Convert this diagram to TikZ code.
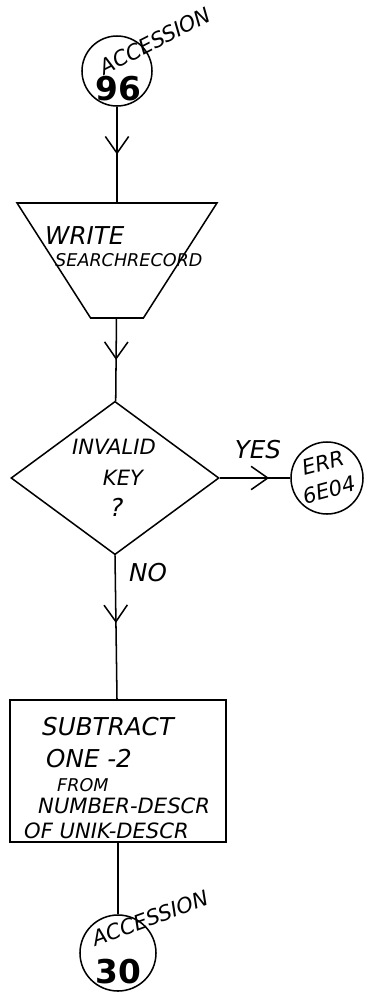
\documentclass[tikz,border=0pt]{standalone}
\usepackage{fontspec}
\usepackage{tikz}
\usetikzlibrary{shapes.geometric,arrows.meta,decorations.markings}
\setsansfont{DejaVu Sans}

\begin{document}
\begin{tikzpicture}[
        x=0.03cm, y=-0.03cm, % 1 unit = 1 px of the sheet, y grows downwards
        hand/.style={font=\sffamily\slshape\fontsize{18}{20}\selectfont, inner sep=0pt},
        bighand/.style={font=\sffamily\slshape\fontsize{21}{23}\selectfont, inner sep=0pt},
        smallhand/.style={font=\sffamily\slshape\fontsize{15}{17}\selectfont, inner sep=0pt},
        bignum/.style={font=\sffamily\bfseries\fontsize{28}{30}\selectfont, inner sep=0pt},
        connector/.style={circle, draw, line width=1.3pt, minimum size=2.1cm, inner sep=0pt},
        iobox/.style={trapezium, shape border rotate=180, trapezium stretches=true, trapezium angle=70.8, draw, line width=1.3pt, minimum width=6cm, minimum height=3.45cm, inner sep=2pt},
        decision/.style={diamond, draw, line width=1.3pt, minimum width=6.24cm, minimum height=4.6cm, inner sep=0pt},
        process/.style={rectangle, draw, line width=1.3pt, minimum width=6.48cm, minimum height=4.26cm, inner sep=0pt},
        flow/.style={draw, line width=1.3pt, postaction={decorate}, decoration={markings, mark=at position #1 with {\arrow{Straight Barb[length=5mm,width=7mm]}}}},
        flow/.default=0.5,
        plain/.style={draw, line width=1.3pt}
    ]
    \useasboundingbox (0,0) rectangle (373,995);

    % ==========================================
    % 1. Entry connector and write
    % ==========================================
    \node[connector] (acc96) at (117, 71) {};
    \node[hand, rotate=27] (acc96txt) at (155, 41) {ACCESSION};
    \node[bignum] (acc96num) at (118, 89) {96};

    \node[iobox] (write) at (117, 260.5) {\strut};
    \node[bighand, anchor=west] (write1) at (45, 236) {WRITE};
    \node[smallhand, anchor=west] (write2) at (55, 260) {SEARCHRECORD};

    % ==========================================
    % 2. Decision
    % ==========================================
    \node[decision] (invalid) at (115, 478) {};
    \node[hand] (inv1) at (114, 447) {INVALID};
    \node[hand] (inv2) at (123, 478) {KEY};
    \node[bighand] (inv3) at (117, 507) {?};

    \node[connector, minimum size=2.16cm] (err) at (327, 478) {};
    \node[hand, rotate=15] (err1) at (323, 463) {ERR};
    \node[hand, rotate=15] (err2) at (329, 490) {6E04};

    \node[bighand] (yes) at (258, 450) {YES};
    \node[bighand] (no) at (148, 573) {NO};

    % ==========================================
    % 3. Subtract and exit connector
    % ==========================================
    \node[process] (subtract) at (118, 771) {};
    \node[bighand, anchor=west] (sub1) at (42, 727) {SUBTRACT};
    \node[bighand, anchor=west] (sub2) at (46, 759) {ONE -2};
    \node[smallhand, anchor=west] (sub3) at (57, 785) {FROM};
    \node[hand, anchor=west] (sub4) at (38, 806) {NUMBER-DESCR};
    \node[hand, anchor=west] (sub5) at (24, 831) {OF UNIK-DESCR};

    \node[connector, minimum size=2.28cm] (acc30) at (118, 953) {};
    \node[hand, rotate=20] (acc30txt) at (150, 918) {ACCESSION};
    \node[bignum] (acc30num) at (118, 972) {30};

    % flow lines
    \path[flow] (acc96) -- (write);
    \path[flow] (write) -- (invalid);
    \path[flow=0.7] (invalid.east) -- (err);
    \path[flow=0.47] (invalid.south) -- (subtract);
    \path[plain] (subtract) -- (acc30);

\end{tikzpicture}
\end{document}
